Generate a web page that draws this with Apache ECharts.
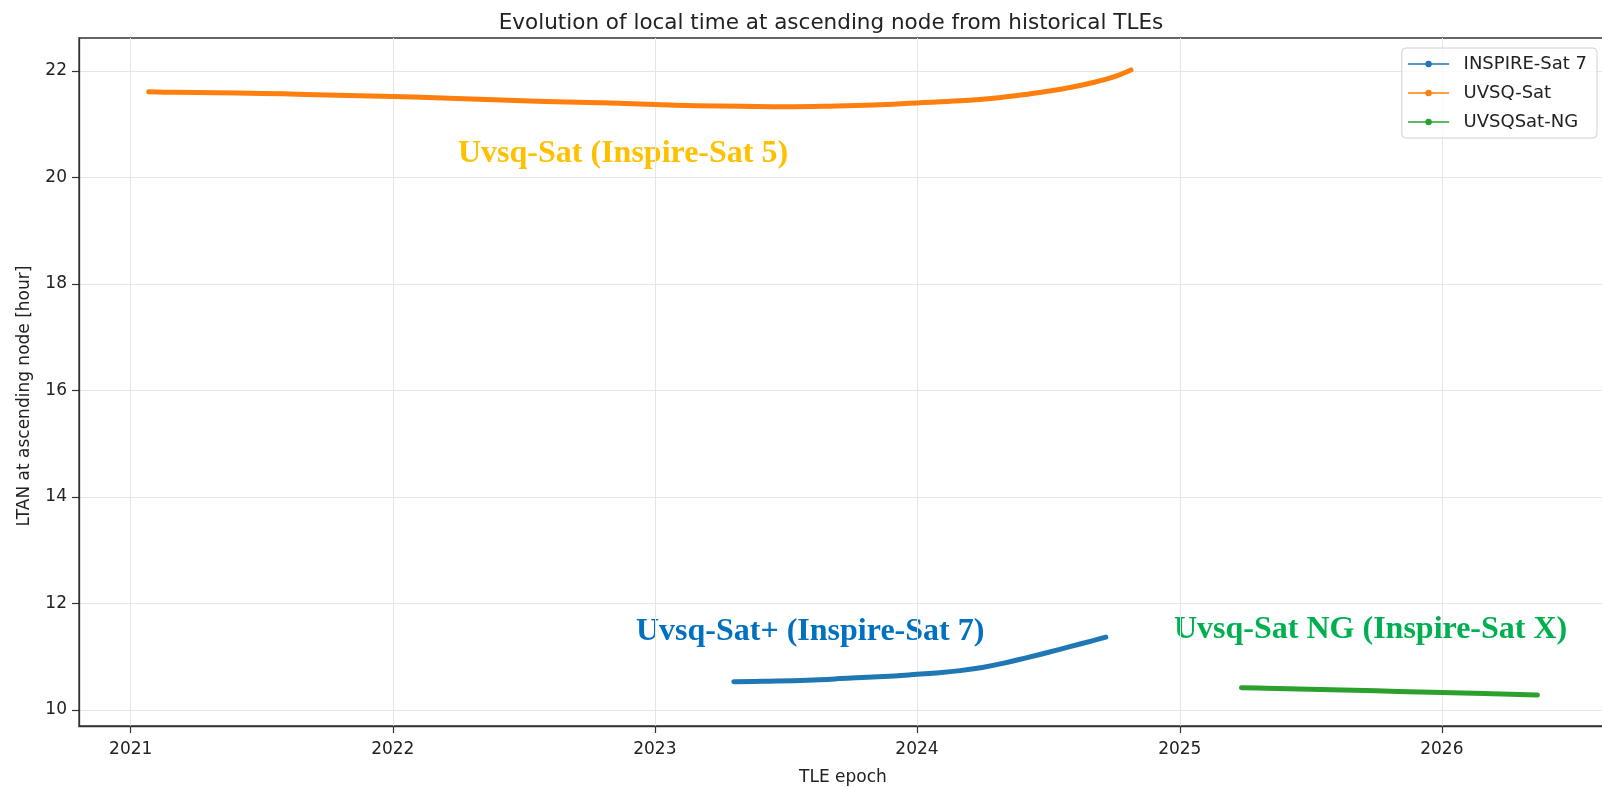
<!DOCTYPE html>
<html>
<head>
<meta charset="utf-8">
<script src="https://cdn.jsdelivr.net/npm/echarts@6/dist/echarts.min.js"></script>
<style>
html,body{margin:0;padding:0;background:#fff;}
#container{width:1602px;height:787px;}
</style>
</head>
<body>
<div id="container"></div>
<script>
// series (TLE epoch, LTAN in hours)
var inspireDates = ['2023-04-21','2023-06-01','2023-08-01','2023-10-01','2023-12-01','2024-01-01','2024-02-01','2024-03-01','2024-04-01','2024-05-01','2024-06-01','2024-07-01','2024-08-01','2024-09-01','2024-09-20'];
var inspireLtan = [10.53,10.54,10.56,10.60,10.64,10.67,10.70,10.74,10.80,10.88,10.98,11.08,11.19,11.30,11.37];

var uvsqDates = ['2021-01-26','2021-03-01','2021-05-01','2021-07-01','2021-09-01','2021-11-01','2022-01-01','2022-03-01','2022-05-01','2022-07-01','2022-09-01','2022-11-01','2023-01-01','2023-03-01','2023-05-01','2023-07-01','2023-09-01','2023-11-01','2024-01-01','2024-03-01','2024-05-01','2024-06-01','2024-07-01','2024-08-01','2024-09-01','2024-10-01','2024-10-25'];
var uvsqLtan = [21.61,21.60,21.59,21.58,21.56,21.54,21.52,21.50,21.47,21.44,21.42,21.40,21.37,21.35,21.34,21.33,21.34,21.36,21.40,21.44,21.51,21.56,21.62,21.69,21.78,21.89,22.02];

var ngDates = ['2025-03-28','2025-05-01','2025-07-01','2025-09-01','2025-11-01','2026-01-01','2026-03-01','2026-05-14'];
var ngLtan = [10.42,10.41,10.39,10.37,10.35,10.33,10.31,10.28];

var seriesNames = ['INSPIRE-Sat 7','UVSQ-Sat','UVSQSat-NG'];
var yearTicks = ['2021-01-01','2022-01-01','2023-01-01','2024-01-01','2025-01-01','2026-01-01'];
var ltanTicks = [10,12,14,16,18,20,22];

var ms = function(s){ return Date.parse(s + 'T00:00:00Z'); };
var pair = function(d,v){
	var out = [];
	for (var i = 0;i<d.length;i++) out.push([ms(d[i]),v[i]]);
	return out;
};
var yearMs = yearTicks.map(ms);

var dom = document.getElementById('container');
var myChart = echarts.init(dom);
var font = 'DejaVu Sans';
var lineSeries = function(name,color,data){
	return {
		name:name,
		type:'line',
		data:data,
		smooth:0.4,
		showSymbol:false,
		symbol:'circle',
		symbolSize:4,
		color:color,
		lineStyle:{width:5,color:color,cap:'round',join:'round'},
		emphasis:{disabled:true}
	};
};
var option = {
	animation:false,
	title:{
		text:'Evolution of local time at ascending node from historical TLEs',
		left:826,
		textAlign:'center',
		top:7,
		textStyle:{fontFamily:font,fontSize:21.5,fontWeight:'normal',color:'#222'}
	},
	legend:{
		orient:'vertical',
		right:5,
		top:48,
		itemWidth:40,
		itemHeight:8,
		itemGap:11,
		padding:[7,10,7,6],
		borderColor:'#d0d0d0',
		borderWidth:1,
		borderRadius:4,
		backgroundColor:'rgba(255,255,255,0.8)',
		lineStyle:{width:1.5},
		textStyle:{fontFamily:font,fontSize:18,color:'#222',padding:[0,0,0,10]},
		data:seriesNames
	},
	grid:{left:79,top:38,width:1528,height:688,outerBoundsMode:'none',show:true,borderColor:'#333',borderWidth:1.3,backgroundColor:'transparent'},
	xAxis:{
		type:'value',
		min:ms('2020-10-21'),
		max:ms('2026-08-19'),
		name:'TLE epoch',
		nameLocation:'middle',
		nameGap:43,
		nameTextStyle:{fontFamily:font,fontSize:17,color:'#222'},
		axisLine:{lineStyle:{color:'#333',width:1.3}},
		axisTick:{customValues:yearMs,length:7,lineStyle:{color:'#333',width:1.2}},
		axisLabel:{customValues:yearMs,margin:15,fontFamily:font,fontSize:17,color:'#222',
			formatter:function(v){ return new Date(v).getUTCFullYear() + ''; }},
		splitLine:{show:true,lineStyle:{color:'#e6e6e6',width:1}}
	},
	yAxis:{
		type:'value',
		min:9.70,
		max:22.62,
		name:'LTAN at ascending node [hour]',
		nameLocation:'middle',
		nameGap:46,
		nameTextStyle:{fontFamily:font,fontSize:17,color:'#222',padding:[0,28,0,0]},
		axisLine:{show:true,lineStyle:{color:'#333',width:1.3}},
		axisTick:{show:true,customValues:ltanTicks,length:7,lineStyle:{color:'#333',width:1.2}},
		axisLabel:{customValues:ltanTicks,margin:12,fontFamily:font,fontSize:17,color:'#222'},
		splitLine:{show:true,lineStyle:{color:'#e6e6e6',width:1}}
	},
	graphic:[
		{type:'text',x:458,y:154,style:{text:'Uvsq-Sat (Inspire-Sat 5)',fill:'#FFC000',font:'bold 32px "Liberation Serif"',textVerticalAlign:'middle'}},
		{type:'text',x:636,y:632,style:{text:'Uvsq-Sat+ (Inspire-Sat 7)',fill:'#0070C0',font:'bold 32px "Liberation Serif"',textVerticalAlign:'middle'}},
		{type:'text',x:1174,y:630,style:{text:'Uvsq-Sat NG (Inspire-Sat X)',fill:'#00B050',font:'bold 32px "Liberation Serif"',textVerticalAlign:'middle'}}
	],
	series:[
		lineSeries(seriesNames[0],'#1f77b4',pair(inspireDates,inspireLtan)),
		lineSeries(seriesNames[1],'#ff7f0e',pair(uvsqDates,uvsqLtan)),
		lineSeries(seriesNames[2],'#2ca02c',pair(ngDates,ngLtan))
	]
};
myChart.setOption(option,true);
window.addEventListener('resize',function(){ myChart.resize(); });
</script>
</body>
</html>
